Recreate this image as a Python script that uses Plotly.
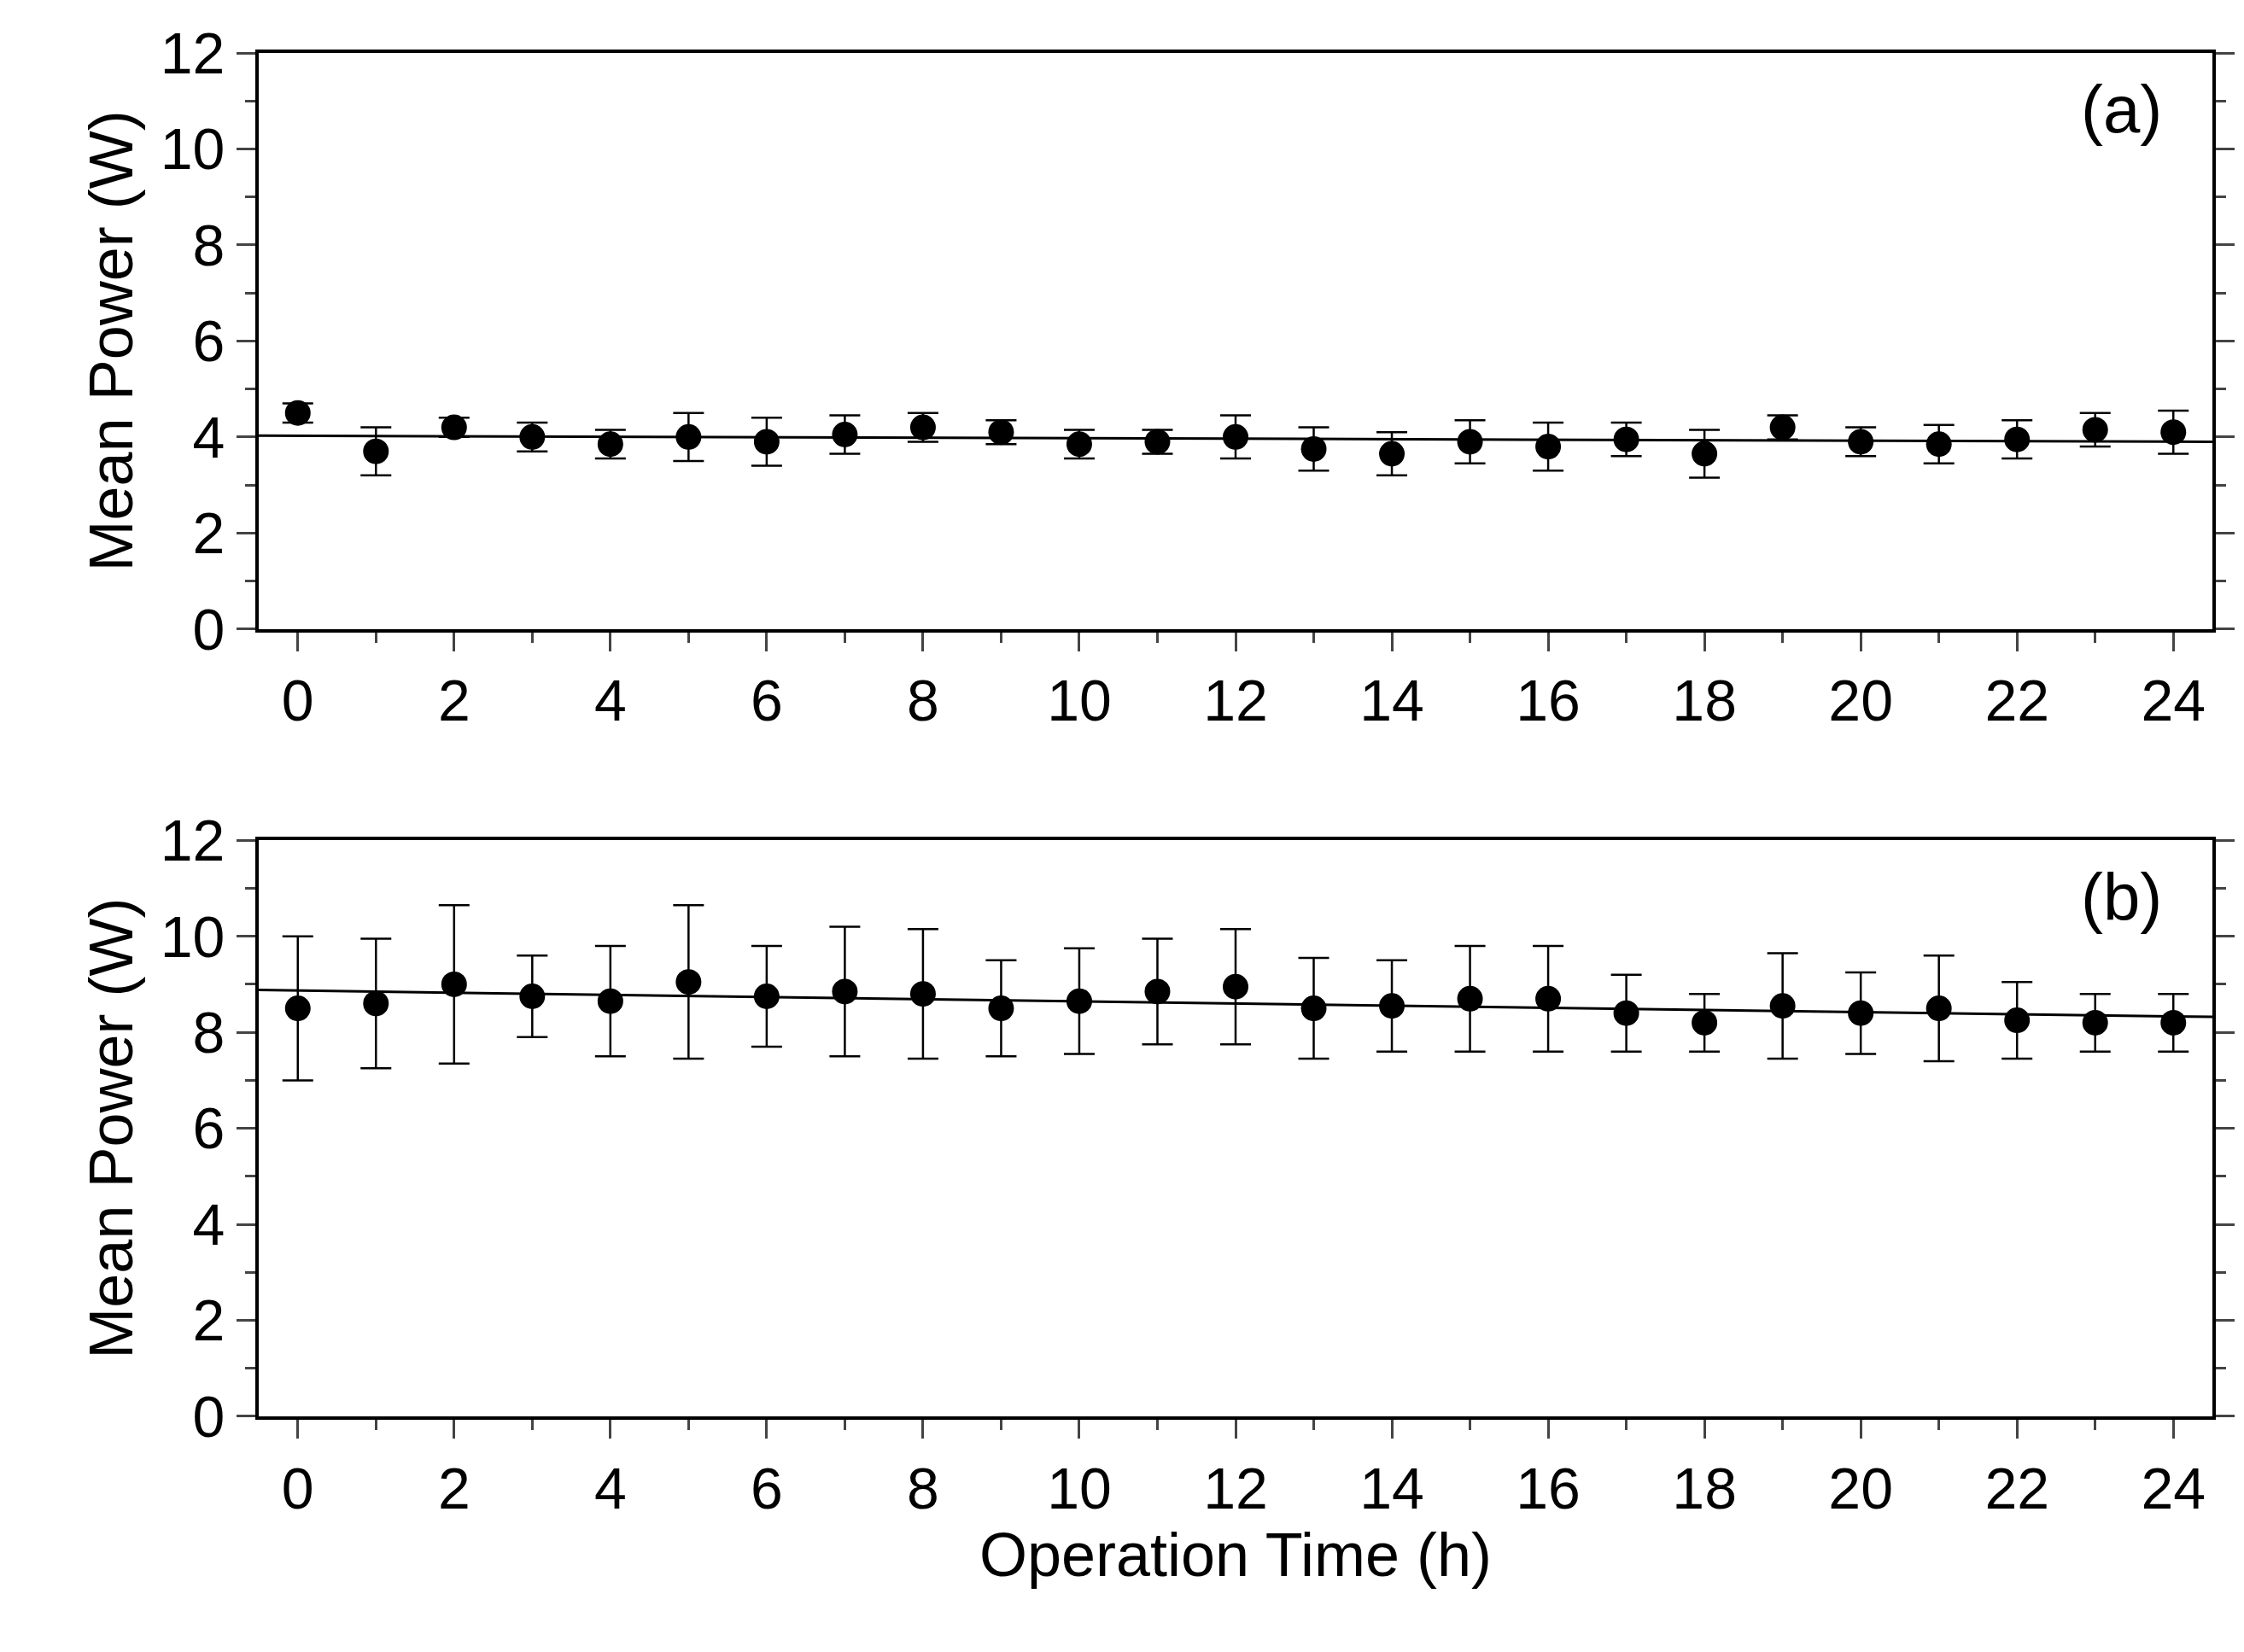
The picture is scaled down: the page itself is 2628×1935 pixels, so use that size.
import plotly.graph_objects as go
from plotly.subplots import make_subplots
import numpy as np

hours = list(range(25))
power_a = [4.5,3.7,4.2,4.0,3.85,4.0,3.9,4.05,4.2,4.1,3.85,3.9,4.0,3.75,3.65,3.9,3.8,3.95,3.65,4.2,3.9,3.85,3.95,4.15,4.1]
err_a = [0.2,0.5,0.2,0.3,0.3,0.5,0.5,0.4,0.3,0.25,0.3,0.25,0.45,0.45,0.45,0.45,0.5,0.35,0.5,0.25,0.3,0.4,0.4,0.35,0.45]
power_b = [8.5,8.6,9.0,8.75,8.65,9.05,8.75,8.85,8.8,8.5,8.65,8.85,8.95,8.5,8.55,8.7,8.7,8.4,8.2,8.55,8.4,8.5,8.25,8.2,8.2]
err_b = [1.5,1.35,1.65,0.85,1.15,1.6,1.05,1.35,1.35,1.0,1.1,1.1,1.2,1.05,0.95,1.1,1.1,0.8,0.6,1.1,0.85,1.1,0.8,0.6,0.6]
labels = ["(a)", "(b)"]

font = "Liberation Sans Narrow, Liberation Sans, Arial"
fig = make_subplots(rows=2, cols=1, vertical_spacing=0.155)
for i, (p, e) in enumerate([(power_a, err_a), (power_b, err_b)], start=1):
    fig.add_trace(go.Scatter(x=hours, y=p, mode="markers",
        marker=dict(color="black", size=30),
        error_y=dict(type="data", array=e, color="black", thickness=2.5, width=18),
        showlegend=False), row=i, col=1)
    c = np.polyfit(hours, p, 1)
    fig.add_trace(go.Scatter(x=[-0.5, 24.5], y=list(np.polyval(c, [-0.5, 24.5])), mode="lines",
        line=dict(color="black", width=3), showlegend=False), row=i, col=1)
    fig.update_xaxes(range=[-0.5, 24.5], dtick=2, tick0=0, ticks="outside", ticklen=22, tickwidth=3,
        minor=dict(dtick=1, ticks="outside", ticklen=12, tickwidth=3),
        showline=True, linewidth=4, linecolor="black", mirror=True, showgrid=False, zeroline=False,
        tickfont=dict(size=68, family=font, color="black"), row=i, col=1)
    fig.update_yaxes(range=[0, 12], dtick=2, ticks="outside", ticklen=22, tickwidth=3,
        minor=dict(dtick=1, ticks="outside", ticklen=12, tickwidth=3),
        showline=True, linewidth=4, linecolor="black", mirror="ticks", showgrid=False, zeroline=False,
        tickfont=dict(size=68, family=font, color="black"),
        title=dict(text="Mean Power (W)", font=dict(size=72, family=font, color="black"), standoff=10),
        row=i, col=1)
    fig.add_annotation(text=labels[i-1], xref=f"x{'' if i==1 else i} domain", yref=f"y{'' if i==1 else i} domain",
        x=0.975, y=0.97, xanchor="right", yanchor="top", showarrow=False,
        font=dict(size=78, family=font, color="black"))
fig.update_xaxes(title=dict(text="Operation Time (h)", font=dict(size=72, family=font, color="black")), row=2, col=1)
fig.update_layout(width=2628, height=1935, plot_bgcolor="white", paper_bgcolor="white",
    margin=dict(l=295, r=45, t=54, b=284))
fig.write_html("out.html")
